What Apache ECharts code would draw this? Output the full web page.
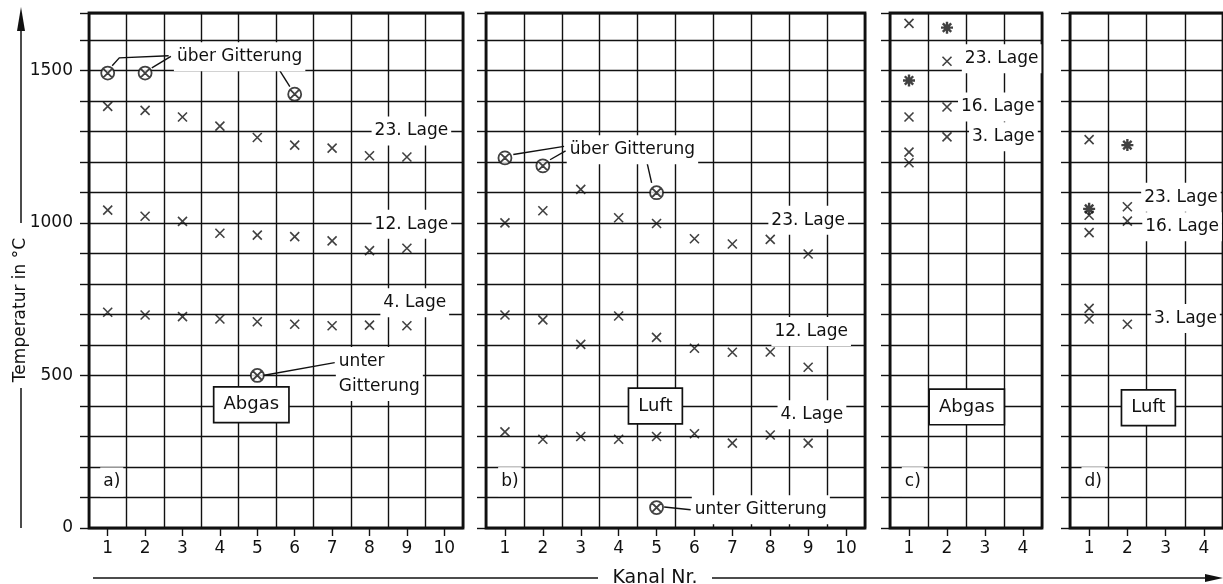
<!DOCTYPE html>
<html><head><meta charset="utf-8">
<script src="https://cdn.jsdelivr.net/npm/echarts@6/dist/echarts.min.js"></script>
<style>html,body{margin:0;padding:0;background:#fff}#c{width:1223px;height:584px}</style>
</head><body><div id="c"></div>
<script>
// ---------- data ----------
const channelsAB = ['1','2','3','4','5','6','7','8','9','10'];
const channelsCD = ['1','2','3','4'];
const yTickLabels = [0, 500, 1000, 1500];

// a) Abgas (channels 1..9)
const abgasA_lage23 = [1382, 1369, 1347, 1317, 1280, 1255, 1245, 1220, 1216];
const abgasA_lage12 = [1042, 1022, 1005, 966, 960, 955, 941, 909, 917];
const abgasA_lage4  = [707, 698, 693, 685, 676, 668, 663, 665, 663];
const abgasA_ueber  = [[1, 1491], [2, 1491], [6, 1422]];
const abgasA_unter  = [[5, 500]];

// b) Luft (channels 1..9)
const luftB_lage23 = [1000, 1040, 1110, 1017, 998, 948, 931, 946, 898];
const luftB_lage12 = [698, 682, 602, 695, 625, 589, 576, 577, 527];
const luftB_lage4  = [315, 291, 300, 291, 300, 309, 278, 305, 278];
const luftB_ueber  = [[1, 1213], [2, 1187], [5, 1099]];
const luftB_unter  = [[5, 67]];

// c) Abgas, d) Luft (channel, value)
const abgasC_cross = [[1, 1654], [1, 1347], [1, 1232], [1, 1197], [2, 1530], [2, 1380], [2, 1282]];
const abgasC_star  = [[1, 1467], [2, 1640]];
const luftD_cross  = [[1, 1273], [1, 1025], [1, 968], [1, 720], [1, 685], [2, 1053], [2, 1006], [2, 668]];
const luftD_star   = [[1, 1046], [2, 1255]];

// ---------- annotations (data coordinates) ----------
const annoA = [
  {x: 2.77, y: 1545, text: 'über Gitterung', align: 'left'},
  {x: 9.12, y: 1301, text: '23. Lage'},
  {x: 9.12, y: 996,  text: '12. Lage'},
  {x: 9.21, y: 738,  text: '4. Lage'},
  {x: 7.1,  y: 505,  text: 'unter\nGitterung', align: 'left'},
  {x: 4.84, y: 404,  text: 'Abgas', box: true},
  {x: 0.8,  y: 151,  text: 'a)', align: 'left'}
];
const leadA = [
  [[1.12, 1515], [1.31, 1541], [2.63, 1548]],
  [[2.18, 1508], [2.69, 1546]],
  [[5.55, 1509], [5.87, 1447]],
  [[5.15, 500], [7.07, 542]]
];
const annoB = [
  {x: 2.63, y: 1240, text: 'über Gitterung', align: 'left'},
  {x: 9.0,  y: 1009, text: '23. Lage'},
  {x: 9.08, y: 644,  text: '12. Lage'},
  {x: 9.1,  y: 371,  text: '4. Lage'},
  {x: 4.97, y: 400,  text: 'Luft', box: true},
  {x: 0.82, y: 152,  text: 'b)', align: 'left'},
  {x: 5.93, y: 60,   text: 'unter Gitterung', align: 'left'}
];
const leadB = [
  [[1.22, 1224], [2.56, 1251]],
  [[2.19, 1207], [2.6, 1236]],
  [[4.72, 1213], [4.87, 1131]],
  [[5.2, 69], [5.9, 60]]
];
const annoC = [
  {x: 2.39, y: 1538, text: '23. Lage', align: 'left'},
  {x: 2.29, y: 1380, text: '16. Lage', align: 'left'},
  {x: 2.58, y: 1282, text: '3. Lage', align: 'left'},
  {x: 2.52, y: 397,  text: 'Abgas', box: true},
  {x: 0.81, y: 152,  text: 'c)', align: 'left'}
];
const annoD = [
  {x: 2.36, y: 1084, text: '23. Lage', align: 'left'},
  {x: 2.39, y: 987,  text: '16. Lage', align: 'left'},
  {x: 2.62, y: 687,  text: '3. Lage', align: 'left'},
  {x: 2.55, y: 394,  text: 'Luft', box: true},
  {x: 0.8,  y: 152,  text: 'd)', align: 'left'}
];

// ---------- build ----------
const FONT = '"DejaVu Sans", sans-serif';
const INK = '#111';
const CROSS = 'path://M0,0L10,10M10,0L0,10';
const OTIMES = 'path://M10,0A10,10,0,1,1,-10,0A10,10,0,1,1,10,0ZM-7,-7L7,7M7,-7L-7,7';
const STAR = 'path://M0,-10L0,10M-10,0L10,0M-7,-7L7,7M7,-7L-7,7';

const panels = [
  {left: 89,  width: 374, cats: channelsAB},
  {left: 486, width: 379, cats: channelsAB},
  {left: 890, width: 152, cats: channelsCD},
  {left: 1070, width: 155, cats: channelsCD}
];
const TOP = 13, HEIGHT = 515, YMAX = 1688;
const line = {color: INK, width: 1.4};

const grid = panels.map(p => ({left: p.left, top: TOP, width: p.width, height: HEIGHT,
  show: true, borderColor: INK, borderWidth: 2.8, backgroundColor: '#fff', containLabel: false}));

const xAxis = [];
panels.forEach((p, i) => {
  xAxis.push({gridIndex: i, type: 'value', position: 'top', min: 0.5, max: p.cats.length + 0.5, interval: 1,
    axisLine: {show: false}, axisTick: {show: false}, axisLabel: {show: false},
    splitLine: {show: true, lineStyle: line}});
  xAxis.push({gridIndex: i, type: 'category', position: 'bottom', data: p.cats, boundaryGap: true,
    axisLine: {show: false}, splitLine: {show: false},
    axisTick: {show: true, alignWithLabel: true, length: 8, lineStyle: line},
    axisLabel: {fontSize: 17, fontFamily: FONT, color: INK, margin: 12}});
});

const yAxis = panels.map((p, i) => ({gridIndex: i, type: 'value', min: 0, max: YMAX, interval: 100,
  axisLine: {show: false},
  axisTick: {show: true, inside: false, length: 9, lineStyle: line},
  splitLine: {show: true, lineStyle: line},
  axisLabel: {show: i === 0, fontSize: 17, fontFamily: FONT, color: INK, margin: 16,
    formatter: v => yTickLabels.includes(v) ? String(v) : ''}}));

const xy = arr => arr.map((v, k) => [k + 1, v]);

function scatter(name, panel, data, kind) {
  const base = {name, type: 'scatter', xAxisIndex: 2 * panel, yAxisIndex: panel, data, z: 3,
    emphasis: {disabled: true}, silent: true};
  if (kind === 'cross') return Object.assign(base, {symbol: CROSS, symbolSize: 9,
    itemStyle: {color: 'rgba(0,0,0,0)', borderColor: INK, borderWidth: 1.6}});
  if (kind === 'otimes') return Object.assign(base, {symbol: OTIMES, symbolSize: 13,
    itemStyle: {color: '#fff', borderColor: INK, borderWidth: 1.8}});
  return Object.assign(base, {symbol: STAR, symbolSize: 12,
    itemStyle: {color: INK, borderColor: INK, borderWidth: 2.4}});
}

function annoSeries(panel, items) {
  return {type: 'custom', xAxisIndex: 2 * panel, yAxisIndex: panel, silent: true, z: 2,
    data: items.map(it => [it.x, it.y]),
    renderItem(params, api) {
      const it = items[params.dataIndex];
      const pt = api.coord([api.value(0), api.value(1)]);
      const box = !!it.box;
      const st = {text: it.text, font: (box ? '18px ' : '17px ') + FONT, fill: INK,
        align: it.align || 'center', verticalAlign: 'middle',
        textAlign: it.align || 'center', textVerticalAlign: 'middle', lineHeight: 25,
        backgroundColor: '#fff', padding: box ? [5, 9, 4, 9] : [2, 3]};
      if (box) { st.borderColor = INK; st.borderWidth = 1.7; }
      return {type: 'text', x: pt[0], y: pt[1], style: st};
    }};
}

function leaderSeries(panel, lines) {
  return {type: 'custom', xAxisIndex: 2 * panel, yAxisIndex: panel, silent: true, z: 1,
    data: lines.map(l => l[0]),
    renderItem(params, api) {
      const pts = lines[params.dataIndex].map(q => api.coord(q));
      return {type: 'polyline', shape: {points: pts}, style: {stroke: INK, lineWidth: 1.4, fill: null}};
    }};
}

const series = [
  leaderSeries(0, leadA), leaderSeries(1, leadB),
  annoSeries(0, annoA), annoSeries(1, annoB), annoSeries(2, annoC), annoSeries(3, annoD),
  scatter('a 23. Lage', 0, xy(abgasA_lage23), 'cross'),
  scatter('a 12. Lage', 0, xy(abgasA_lage12), 'cross'),
  scatter('a 4. Lage', 0, xy(abgasA_lage4), 'cross'),
  scatter('a über Gitterung', 0, abgasA_ueber, 'otimes'),
  scatter('a unter Gitterung', 0, abgasA_unter, 'otimes'),
  scatter('b 23. Lage', 1, xy(luftB_lage23), 'cross'),
  scatter('b 12. Lage', 1, xy(luftB_lage12), 'cross'),
  scatter('b 4. Lage', 1, xy(luftB_lage4), 'cross'),
  scatter('b über Gitterung', 1, luftB_ueber, 'otimes'),
  scatter('b unter Gitterung', 1, luftB_unter, 'otimes'),
  scatter('c Messwerte', 2, abgasC_cross, 'cross'),
  scatter('c Mehrfach', 2, abgasC_star, 'star'),
  scatter('d Messwerte', 3, luftD_cross, 'cross'),
  scatter('d Mehrfach', 3, luftD_star, 'star')
];

const ls = {stroke: INK, lineWidth: 1.5};
const graphic = [
  {type: 'line', shape: {x1: 21, y1: 223, x2: 21, y2: 28}, style: ls, silent: true},
  {type: 'polygon', shape: {points: [[21, 7], [17, 31], [25, 31]]}, style: {fill: INK}, silent: true},
  {type: 'line', shape: {x1: 21, y1: 388, x2: 21, y2: 528}, style: ls, silent: true},
  {type: 'text', x: 21, y: 310, rotation: Math.PI / 2, silent: true,
    style: {text: 'Temperatur in °C', font: '17px ' + FONT, fill: INK,
      textAlign: 'center', textVerticalAlign: 'middle', align: 'center', verticalAlign: 'middle'}},
  {type: 'line', shape: {x1: 93, y1: 578, x2: 598, y2: 578}, style: ls, silent: true},
  {type: 'line', shape: {x1: 712, y1: 578, x2: 1208, y2: 578}, style: ls, silent: true},
  {type: 'polygon', shape: {points: [[1223, 578], [1205, 574], [1205, 582]]}, style: {fill: INK}, silent: true},
  {type: 'text', x: 655, y: 578, silent: true,
    style: {text: 'Kanal Nr.', font: '19px ' + FONT, fill: INK,
      textAlign: 'center', textVerticalAlign: 'middle', align: 'center', verticalAlign: 'middle'}}
];

const chart = echarts.init(document.getElementById('c'), null, {renderer: 'canvas'});
chart.setOption({animation: false, backgroundColor: '#fff', grid, xAxis, yAxis, series, graphic});
</script>
</body></html>
